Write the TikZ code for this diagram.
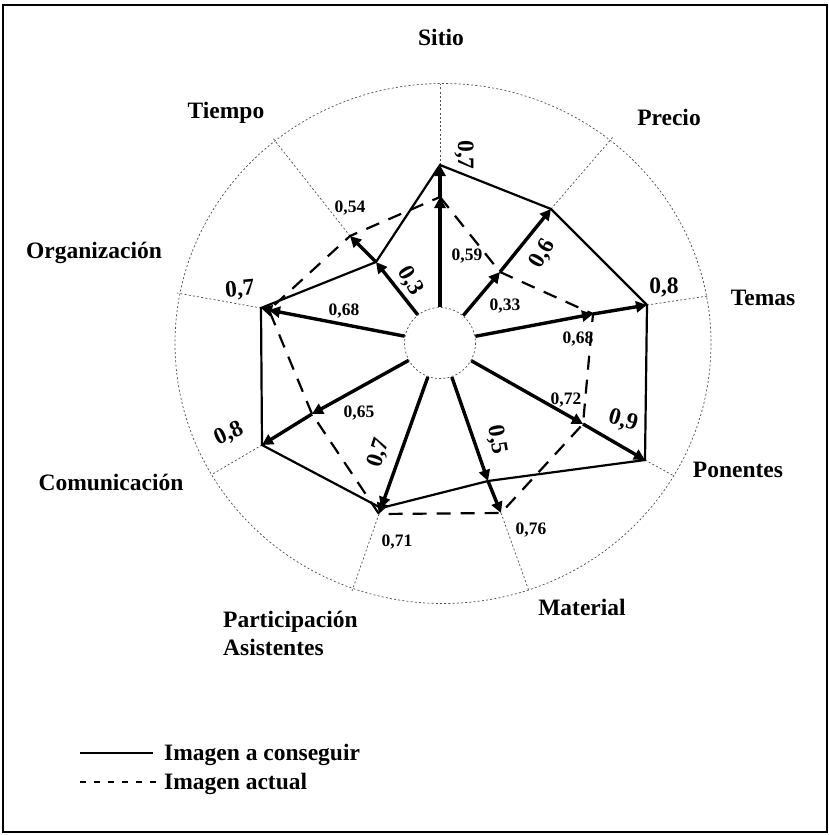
\documentclass[tikz,border=0pt]{standalone}
\usepackage{fontspec}
\setmainfont{Liberation Serif}
\usetikzlibrary{arrows.meta,calc}
\begin{document}
\begin{tikzpicture}[x=1pt,y=-1pt,
  cat/.style={font=\fontsize{23.5}{27}\selectfont\bfseries, anchor=base, inner sep=0},
  big/.style={font=\fontsize{23.5}{27}\selectfont\bfseries, inner sep=0},
  small/.style={font=\fontsize{17.5}{19}\selectfont\bfseries, inner sep=0},
  guide/.style={line width=0.7pt, black!70, dash pattern=on 2pt off 2.2pt},
  axisline/.style={line width=3.4pt, -{Triangle[length=11pt,width=11pt]}},
  target/.style={line width=2.2pt, line join=miter},
  current/.style={line width=2.2pt, dash pattern=on 14pt off 10pt},
]
\useasboundingbox (0,0) rectangle (829,835);
\draw[line width=1.2pt] (3,5) rectangle (827,832);

% centre and rings
\coordinate (C) at (440,343);
\draw[guide] (443,343.5) ellipse [x radius=268, y radius=260];
\draw[guide] (C) circle [radius=35.5];

% target (solid) points
\coordinate (s1) at (440,165);
\coordinate (s2) at (551,209);
\coordinate (s3) at (647,305);
\coordinate (s4) at (645,460);
\coordinate (s5) at (488,481);
\coordinate (s6) at (381,508);
\coordinate (s7) at (262,445);
\coordinate (s8) at (261,308);
\coordinate (s9) at (376,262);
% current (dashed) points
\coordinate (d1) at (440,197);
\coordinate (d2) at (500,272);
\coordinate (d3) at (593,314);
\coordinate (d4) at (583,424);
\coordinate (d5) at (501,513);
\coordinate (d6) at (379,514);
\coordinate (d7) at (312,414);
\coordinate (d8) at (269,310);
\coordinate (d9) at (350,236);
% ends of axis guides on the outer ring
\coordinate (e1) at (440,84);
\coordinate (e2) at (613,137);
\coordinate (e3) at (708,296);
\coordinate (e4) at (674,476);
\coordinate (e5) at (529,591);
\coordinate (e6) at (352,591);
\coordinate (e7) at (211,475);
\coordinate (e8) at (177,293);
\coordinate (e9) at (272,137);

% guides from outermost value to the ring
\foreach \b/\c in {s1/e1,s2/e2,s3/e3,s4/e4,d5/e5,d6/e6,s7/e7,s8/e8,d9/e9}
  \draw[guide] (\b) -- (\c);

% polygons
\draw[target] (s1) -- (s2) -- (s3) -- (s4) -- (s5) -- (s6) -- (s7) -- (s8) -- (s9) -- cycle;
\draw[current] (d1) -- (d2) -- (d3) -- (d4) -- (d5) -- (d6) -- (d7) -- (d8) -- (d9) -- cycle;

% axis arrows
\foreach \a/\b in {d1/s1,d2/s2,d3/s3,d4/s4,s5/d5,s6/d6,d7/s7,d8/s8,s9/d9}{
  \draw[axisline] ($(C)!36pt!(\a)$) -- (\a);
  \draw[axisline] (\a) -- (\b);
}

% category labels
\node[cat] (lSitio) at (441,45) {Sitio};
\node[cat] (lPrecio) at (669,125) {Precio};
\node[cat] (lTemas) at (763,305) {Temas};
\node[cat] (lPonentes) at (738,477) {Ponentes};
\node[cat] (lMaterial) at (582,615) {Material};
\node[cat, anchor=base west] (lPart) at (223,627) {Participación};
\node[cat, anchor=base west] (lAsis) at (223,655) {Asistentes};
\node[cat] (lCom) at (111,490) {Comunicación};
\node[cat] (lOrg) at (94,258) {Organización};
\node[cat] (lTiempo) at (226,118) {Tiempo};

% target values
\node[big, rotate=-90] (v1) at (464,155) {0,7};
\node[big, rotate=60] (v2) at (543,254) {0,6};
\node[big] (v3) at (664,288) {0,8};
\node[big, rotate=-15] (v4) at (623,421) {0,9};
\node[big, rotate=-80] (v5) at (497,440) {0,5};
\node[big, rotate=72] (v6) at (379,453) {0,7};
\node[big, rotate=25] (v7) at (229,434) {0,8};
\node[big, rotate=5] (v8) at (240,290) {0,7};
\node[big, rotate=-60] (v9) at (410,281) {0,3};

% current values
\node[small] (c1) at (467,256) {0,59};
\node[small] (c2) at (505,306) {0,33};
\node[small] (c3) at (578,339) {0,68};
\node[small] (c4) at (566,400) {0,72};
\node[small] (c5) at (531,530) {0,76};
\node[small] (c6) at (397,542) {0,71};
\node[small] (c7) at (359,413) {0,65};
\node[small] (c8) at (344,311) {0,68};
\node[small] (c9) at (350,208) {0,54};

% legend
\coordinate (la) at (80,753);
\coordinate (lb) at (153,753);
\coordinate (lc) at (80,782);
\coordinate (ld) at (158,782);
\draw[line width=1.6pt] (la) -- (lb);
\draw[line width=1.6pt, dash pattern=on 6pt off 8pt] (lc) -- (ld);
\node[cat, anchor=base west] (leg1) at (164,760) {Imagen a conseguir};
\node[cat, anchor=base west] (leg2) at (164,789) {Imagen actual};
\end{tikzpicture}
\end{document}
